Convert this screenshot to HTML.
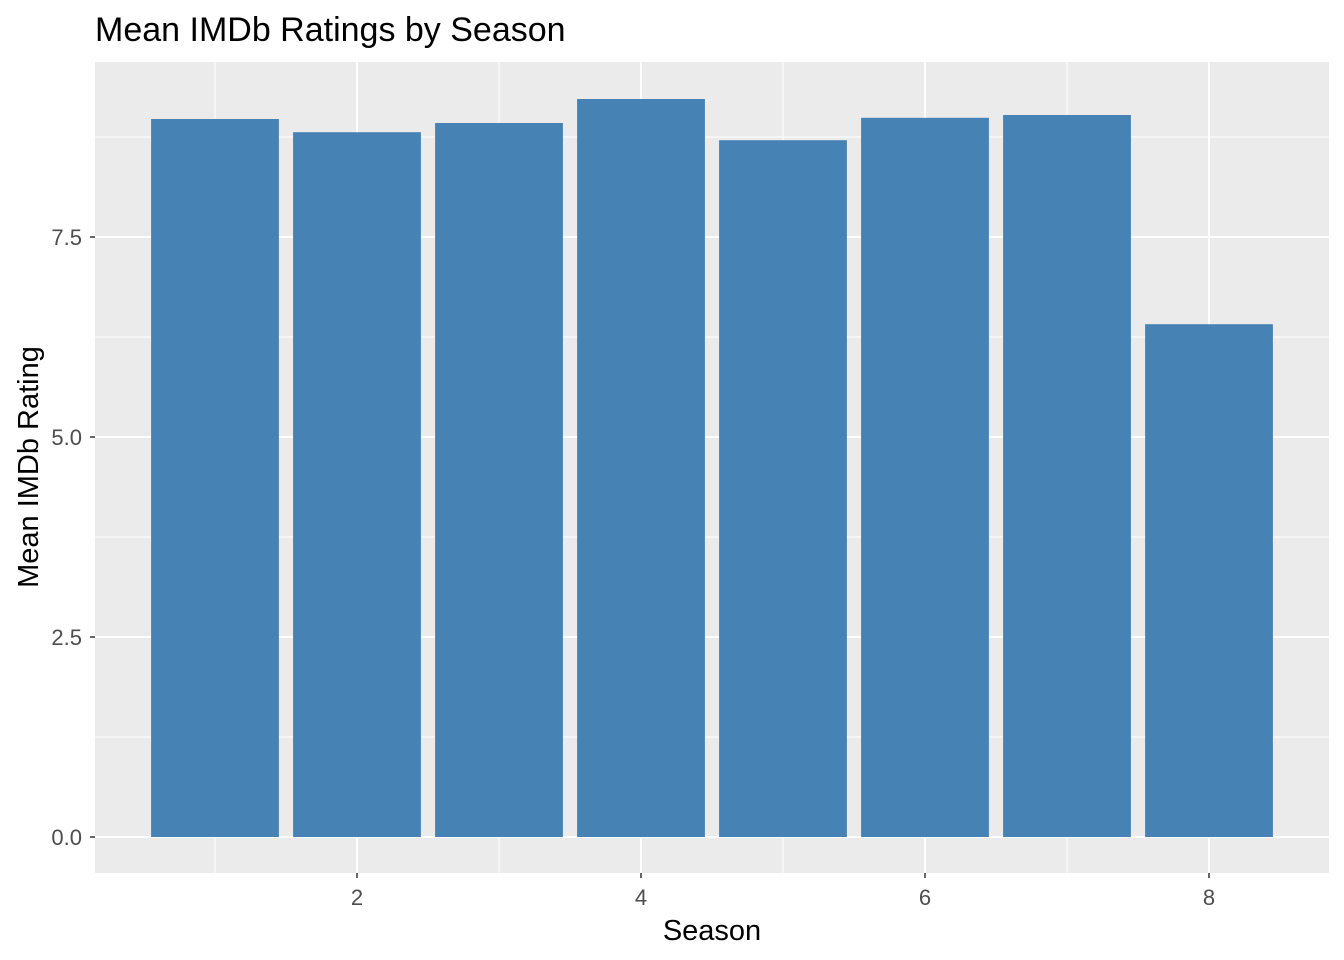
<!DOCTYPE html>
<html><head><meta charset="utf-8"><style>
html,body{margin:0;padding:0;background:#fff;}
svg{display:block;font-family:"Liberation Sans",Arial,sans-serif;}
</style></head><body>
<svg id="chart" width="1344" height="960" viewBox="0 0 1344 960">
<rect x="0" y="0" width="1344" height="960" fill="#fff"/>
<text x="95" y="41" font-size="34" fill="#000">Mean IMDb Ratings by Season</text>
<rect x="95" y="62" width="1234" height="811" fill="#ebebeb"/>
<g id="grid"></g>
<g id="bars"></g>
<g id="axes"></g>
<text x="712" y="940" font-size="29" text-anchor="middle" fill="#000">Season</text>
<text transform="translate(38,467) rotate(-90)" font-size="29" text-anchor="middle" fill="#000">Mean IMDb Rating</text>
</svg>
<script>
const seasons = [1,2,3,4,5,6,7,8];
const ratings = [8.975, 8.81, 8.925, 9.225, 8.71, 8.99, 9.025, 6.41];
const yTicks = [0, 2.5, 5, 7.5];
const yTickLabels = ["0.0","2.5","5.0","7.5"];
const yMinor = [1.25, 3.75, 6.25, 8.75];
const xTicks = [2,4,6,8];
const xMinor = [1,3,5,7];

const NS = "http://www.w3.org/2000/svg";
const PL=95, PR=1329, PT=62, PB=873;
function xs(v){ return 215 + (v-1)*142; }
function ys(v){ return 837 - v*80; }
function mk(tag, attrs, parent){
  const e=document.createElementNS(NS,tag);
  for(const k in attrs) e.setAttribute(k, attrs[k]);
  parent.appendChild(e); return e;
}
const grid=document.getElementById('grid');
const bars=document.getElementById('bars');
const axes=document.getElementById('axes');
yMinor.forEach(v=>{
  const l=mk('line',{x1:PL,x2:PR,y1:ys(v),y2:ys(v),stroke:'#fff','stroke-width':1},grid);
  
  
});
xMinor.forEach(v=>{
  const l=mk('line',{x1:xs(v),x2:xs(v),y1:PT,y2:PB,stroke:'#fff','stroke-width':1},grid);
  
  
});
yTicks.forEach((v,i)=>{
  const l=mk('line',{x1:PL,x2:PR,y1:ys(v),y2:ys(v),stroke:'#fff','stroke-width':2},grid);
  
  
  const t=mk('line',{x1:PL-5,x2:PL,y1:ys(v),y2:ys(v),stroke:'#333','stroke-width':1.5},axes);
  
  
  const tx=mk('text',{x:PL-13,y:ys(v)+8,'font-size':22,'text-anchor':'end',fill:'#4d4d4d'},axes);
  tx.textContent=yTickLabels[i];
  
  
});
xTicks.forEach(v=>{
  const l=mk('line',{x1:xs(v),x2:xs(v),y1:PT,y2:PB,stroke:'#fff','stroke-width':2},grid);
  
  
  const t=mk('line',{x1:xs(v),x2:xs(v),y1:PB,y2:PB+5,stroke:'#333','stroke-width':1.5},axes);
  
  
  const tx=mk('text',{x:xs(v),y:PB+32,'font-size':22,'text-anchor':'middle',fill:'#4d4d4d'},axes);
  tx.textContent=String(v);
  
  
});
const bw=0.9*142;
seasons.forEach((s,i)=>{
  const top=ys(ratings[i]);
  const r=mk('rect',{x:xs(s)-bw/2,y:top,width:bw,height:ys(0)-top,fill:'#4682b4'},bars);
  
  
});
</script>
</body></html>
